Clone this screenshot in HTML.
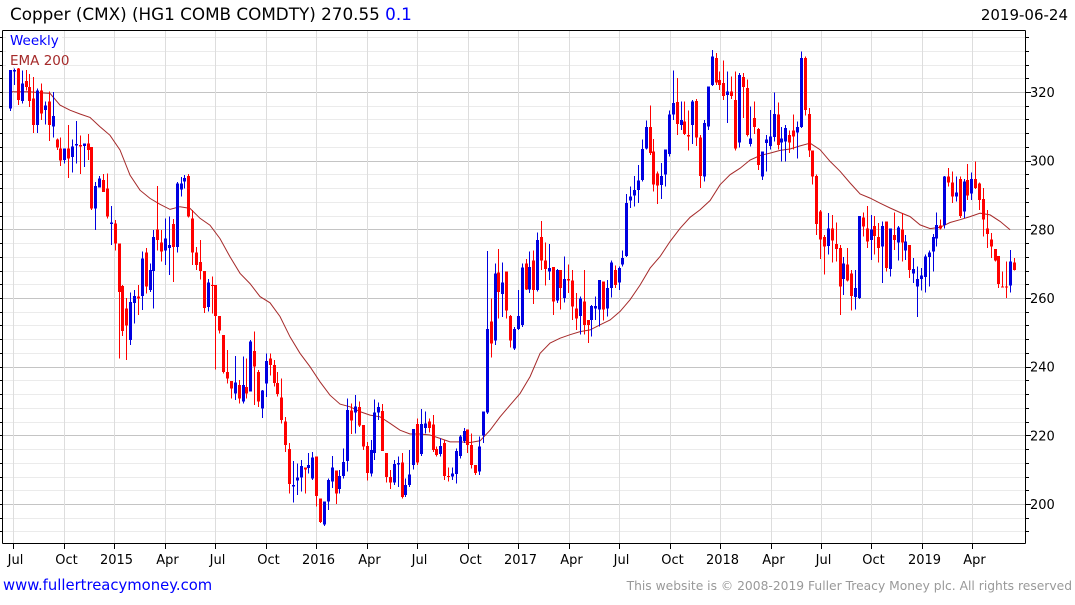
<!DOCTYPE html>
<html><head><meta charset="utf-8"><style>
html,body{margin:0;padding:0;background:#fff;}
body{width:1075px;height:600px;overflow:hidden;font-family:"Liberation Sans","DejaVu Sans",sans-serif;}
svg text{font-family:"DejaVu Sans","Liberation Sans",sans-serif;}
</style></head><body>
<svg id="chart" width="1075" height="600" xmlns="http://www.w3.org/2000/svg" shape-rendering="crispEdges">
<text x="10" y="20" font-size="16.8" fill="#000">Copper (CMX) (HG1 COMB COMDTY) 270.55 <tspan fill="#0000ff">0.1</tspan></text>
<text x="1068" y="20" font-size="15" fill="#000" text-anchor="end">2019-06-24</text>
<g id="grid"></g>
<g id="ema"></g>
<g id="candles"></g>
<g id="axes"></g>
<rect x="6" y="31" width="56" height="36" fill="#fff"/>
<text x="10" y="45" font-size="13.5" fill="#0000ff">Weekly</text>
<text x="10" y="65" font-size="13.5" fill="#a52a2a">EMA 200</text>
<text x="3" y="590" font-size="14.8" fill="#0000ff">www.fullertreacymoney.com</text>
<text x="1072" y="590" font-size="12.3" fill="#999" text-anchor="end">This website is © 2008-2019 Fuller Treacy Money plc. All rights reserved</text>
</svg>
<script>
const opens=[315.2,325.9,326.9,317.4,323.2,321.5,318.1,310.4,320.5,314.7,317.2,310,306.2,303.6,300.2,303.6,301.1,304.5,304.6,304.3,305,304,286.1,292.2,294.3,291.9,281.6,281.7,275.9,263.5,257,247.7,258.5,260.4,260.6,273.2,262.3,267.9,280,276.1,273.9,274.6,281.5,274.9,291.6,294,295.5,283.2,273.2,270.5,267.9,257.4,263.8,263.8,254.8,249.2,238.5,235.8,232.2,234.6,229.8,234.1,232.7,244.5,238.5,227.8,235.1,242.4,240.5,235.3,231,224,216,205.2,206.8,207.7,210.7,210.5,207.5,213.8,201.6,194,200.7,206.5,209.7,204.3,208.1,212.5,227.2,226.6,228.3,223,216.9,208.9,214.8,226.7,227.1,214.8,207.8,206.3,211.6,212.1,202.6,205.5,211.4,223.3,214.5,222.2,224,223.2,216,214.5,217.7,208.2,208,208.7,214,218.4,221.7,217.2,211.4,209.4,220,226.6,253.1,247.6,267.4,261.2,267.7,254.8,245.3,250.9,252.1,270.1,262.5,270.9,262.4,277.7,270.9,267.7,269,259.3,268.2,260,265.5,265.1,257,254.8,259,253.6,253.6,257,256.6,264.8,256.9,262.9,268.2,264.5,269.7,272.3,288.4,289.8,291.5,294.4,303.6,309.8,302.7,296.2,292.9,295.9,302,313.4,317.1,310.4,311.4,307.5,310.4,317.4,306.8,295.4,310,322.1,329.9,323.5,322.6,319.2,320.1,317.7,305.3,324.3,321.1,304.9,312.4,309.2,295.4,305.1,304.3,306.9,313.4,305.3,305.6,307.5,308.8,308.2,309.8,329.9,313.6,303,295.6,285.2,277.7,275.2,280.3,275.8,274.5,265.5,269.7,267.1,260.3,260,283.5,280.3,276.9,281,277.7,275,282.3,268.4,278.4,276.2,280,273.9,275.5,267.2,263.4,265.5,266.1,271.9,273.6,277.4,281.1,281.3,295.4,293.6,289.6,294.6,285.2,294.4,290.5,294.6,293.3,288.8,280.3,277.1,274.2,272.3,263.4,263.4,263.6,270.3];
const highs=[326.4,326.9,327,326.2,326.4,325.2,324.4,321,322.5,317.2,320.1,320,306.5,306.8,303.6,310.4,306.2,311.5,307.4,305,307.7,304,293.8,295.5,296.1,296.3,286.8,282.7,275.9,263.8,260,261.6,262.3,263.8,273.5,274.6,270.1,279.8,292.6,279.8,283.2,283.7,283,293.8,295.3,295.8,296.1,285.6,274.9,276.9,267.9,265.5,266.2,263.8,254.8,249.2,244.8,235.8,243.1,236.1,242.9,242.4,247.7,250.2,239,233.2,243.9,243.9,241.9,238.5,236.6,225.4,217.7,212.5,211.8,212.8,210.7,214.8,215.2,213.8,201.6,200.7,207.5,214,209.7,209.9,216.2,230.8,229.3,231.7,229.8,223,218.1,218.6,230.5,229.5,229.1,214.8,209.9,212.8,213.8,214.8,207.5,215.7,221.8,224.9,227.7,226.9,224.9,225.9,216.7,219.1,218.6,210.7,210.7,216.2,220.1,222.2,221.7,220.6,211.4,219.6,227,273.7,259.9,270.1,274.3,270.3,267.7,255.1,251.6,262.3,270.1,271.3,273.5,273.8,279.1,282.5,276.2,275.8,269,268.4,268.2,272.1,269.7,268.2,261.4,260.4,268.2,253.6,258,260.4,265.3,264.8,265.3,270.9,269.4,269.2,273.8,290.3,292.5,295.6,298.8,306.1,311.7,316,306.3,296.8,299.3,303.2,314.6,326.3,324.1,317.2,317.2,314.6,317.7,317.9,307.5,311.9,321.6,332.3,331.3,326,329.2,326,324.5,326,325.5,325.5,323.7,315.8,317.2,309.5,302.7,307.5,314.8,319.9,317,309.8,310.4,308.8,313.4,311.4,331.8,330.4,315.3,303,295.9,285.7,278.4,284.7,284.2,282,275.5,271.9,274.5,268.2,268.2,283.9,284.9,286.8,284.2,283.9,281.8,282.3,282.3,280.3,284.9,281,284.7,278.4,275.5,271.6,269.2,268.7,272.6,273.8,278.7,284.9,282.8,295.6,297.8,296.8,295.4,295.4,294.6,299.1,296.6,299.8,293.6,292,285.7,278.9,274.2,272.3,267.7,270.6,274,271.6];
const lows=[314.5,322,316.2,316.7,320.5,315.7,308.1,308.1,311.8,310.6,305.8,306.8,303.1,298.4,299.2,295,296.5,299.2,296.1,298.2,300.2,285.6,279.8,292.2,290.9,283.2,275.4,273.8,242.4,248.9,242,246.3,252.6,255,256.5,261.3,261.8,257,273.9,270.7,269.6,266.7,264.7,273.3,289.5,291.9,283.5,269.6,268.1,265.4,255.7,256,255.5,239.2,249.7,238,235.1,230.8,230.3,229.3,229.3,230.8,232.7,228.8,228.3,225,231.2,237.5,234.2,231.3,223.5,215.2,203.1,200.4,202.6,203.6,203.1,208.9,207,199.2,194.4,193.6,198.2,204.6,200,203.1,207.5,209.4,220.4,220.6,222.5,215.7,206.8,208,212.8,224.5,215.4,206.3,204.3,205.5,205,201.6,202.1,205,210.1,211.4,214,220.6,220.8,215.2,213.8,213.8,207,206.5,207,206,213.3,217.7,214.8,210.4,208.4,208.4,217.7,226.2,242.7,246.3,254.1,254.4,254.1,245.6,244.8,250.7,251.6,262.3,261.4,258.3,261.9,268.2,263.6,265.3,255.1,258.5,256.6,258.7,261.4,253.6,250.7,249.3,249.3,246.9,248.8,253.6,251.7,253.4,254.6,260.2,262.9,262.4,269.2,271.9,286.2,286.7,287.6,293.9,303.2,301.7,291,287.4,288.8,292.5,301.2,311.9,307.5,309,307.5,303,304.9,304.3,292,294,309,321.8,322.1,320.6,317.7,310.9,317.9,302.9,303.9,312.4,307,304.1,307.8,297.3,294.4,296.9,303.2,305.6,303.2,299.8,299.8,302.2,303.2,300.7,309.5,313.1,301,293,278.4,271.3,266.8,272.6,270.3,270.6,255.1,260.9,264.8,256.4,256.7,259.7,277.9,274.5,271.1,272.6,270.3,264.3,267.7,266.3,274,270.9,270.6,271.1,265.8,264.3,254.4,262.2,261.6,263.4,267.7,275,280,280.3,292.5,287.6,288.1,283.3,283.3,288.6,288.6,291.7,285.7,277.9,274.5,271.6,270.6,262.9,263.2,260,261.6,268];
const closes=[326.4,326.4,317.6,322.5,321.5,317.4,310.4,320.5,313.8,316,310.4,313,303.9,300,303.6,300.6,304.2,304.8,304.1,305,303.1,286.1,292.6,294.8,290.9,283.7,282,275.9,261.8,250.4,252,258.9,260.6,259.9,271.5,263.3,268.1,277.8,276.9,273.6,277.4,275.4,274.9,293.4,293.4,295,283.7,273.2,269.6,267.9,257.1,264.5,263.5,254.8,250.6,238.5,236.6,233.7,235.4,230.8,234.6,232.2,247.4,240,229.8,233,241.6,240.5,235.3,232,224.5,217.2,205.8,205.5,207.7,211.1,210.1,211.4,213.6,202.3,194.8,200.7,207,210.6,203.1,208.1,212.3,227.4,224.3,228.4,222.8,216.7,209.1,215.7,226.7,228.3,215.5,207.8,206.3,211.6,211.9,202.1,205.5,208.6,221.8,212.1,223.3,223.5,222.2,215.7,214.3,216.9,208.2,207.8,208.9,215.5,219.6,221.3,217.2,211.4,209.1,216.7,226.9,251,246.8,267.2,261.8,264.5,256.3,247.6,250.9,254.8,268.9,262.5,269.1,262.4,276.9,270.9,268.4,268.7,259,268.2,262.9,265.5,265.1,257.5,254.1,259.9,252.2,252.2,257.7,257.7,265.3,256.6,262.9,270.3,263.8,268.7,271.6,287.6,289.6,291.5,294.2,303.4,309.8,302.2,293,292.7,295.6,303.2,313.4,316.8,310.7,311.9,307.8,307,317.2,306.8,295.6,310.9,321.6,330.3,322.8,322.1,318.9,320.1,318.9,303.6,325,321.4,307.5,306.5,309.8,298.8,302.7,306.1,307.1,313.6,304.6,306.4,309.5,305.3,307,309.8,329.9,314.8,303,295.4,281.6,277.1,275,280.3,276.8,274.2,263.4,270.1,265.1,260.6,262.9,283.9,280.8,276.5,280,278.1,274.5,281,268.7,280.3,276.9,280.6,276.2,276.5,268.2,268.4,265.5,266.5,272.1,273.3,277.7,281.3,280.3,295.4,293.6,289.6,290.7,283.9,293.9,289.8,294.6,292,288.6,282.8,278.7,275,270.9,264.1,263.2,263.2,270.6,268.2];
const emaValues=[320.1,320.1,320.1,319.8,319.6,316.2,314.7,313.6,312.6,309.9,307.4,303.1,295.8,291.4,289,287.3,285.8,286.6,286.1,283.2,281.2,277.3,272,267.2,264.2,260.4,258.6,254.6,248.7,243.9,240,235.6,231.7,229.1,228.3,226.9,225.9,225.4,223.5,221.5,220.4,220.4,220.1,219.1,218.1,218.1,217.9,218.4,221.5,225.4,228.8,232.2,237.1,243.9,246.9,248.3,249.3,250.2,250.7,252.2,253.6,256.1,259.5,263.8,268.7,272.1,276.5,280.3,283.5,285.7,288.4,293,295.9,297.8,300.2,301.5,302.2,303,303.4,304.3,305.1,303.2,299.8,296.9,293.5,290.3,289.1,287.6,286.2,284.9,283.7,281.3,280.2,280.6,282,282.8,283.7,284.7,284.2,282.3,279.9];
const emaStepWeeks=2.58;
const yTicks=[200,220,240,260,280,300,320];
const xTickLabels=["Jul","Oct","2015","Apr","Jul","Oct","2016","Apr","Jul","Oct","2017","Apr","Jul","Oct","2018","Apr","Jul","Oct","2019","Apr"];
const quarterWeeks=13.02;

const NS="http://www.w3.org/2000/svg";
const L=2,R=1025,T=30,B=543;
const xw=w=>10+w*3.8764;
const yp=p=>504-(p-200)*3.4333;
function mk(tag,attrs,parent){const e=document.createElementNS(NS,tag);for(const k in attrs)e.setAttribute(k,attrs[k]);parent.appendChild(e);return e;}
const grid=document.getElementById('grid'),axes=document.getElementById('axes'),cg=document.getElementById('candles'),eg=document.getElementById('ema');
for(let p=192;p<=336;p+=4){const y=Math.round(yp(p))+0.5;const major=(p%20===0);
 const ln=mk('line',{x1:L,x2:R,y1:y,y2:y,stroke:major?'#c4c4c4':'#ebebeb','stroke-width':1},grid);
 
 
 const tk=mk('line',{x1:R,x2:R+(major?6:4),y1:y,y2:y,stroke:'#000'},axes);
 
 
 const lt=mk('line',{x1:0,x2:L,y1:y,y2:y,stroke:'#000'},axes);
 
 
}
yTicks.forEach(v=>{const t=mk('text',{x:1030,y:yp(v)+5,'font-size':13,fill:'#000'},axes);t.textContent=v;
 
 });
xTickLabels.forEach((s,q)=>{const x=Math.round(xw(0.9+q*quarterWeeks))+0.5;
 const g=mk('line',{x1:x,x2:x,y1:T,y2:B,stroke:'#dddddd'},grid);
 
 
 const tk=mk('line',{x1:x,x2:x,y1:B,y2:B+6,stroke:'#000'},axes);
 
 
 const t=mk('text',{x:x+2,y:564,'font-size':13,fill:'#000','text-anchor':'middle'},axes);t.textContent=s;
 
 
});
[[L,T,R,T],[R,T,R,B],[L,B,R,B],[L,T,L,B]].forEach(a=>{const ln=mk('line',{x1:a[0]+0.5,y1:a[1]+0.5,x2:a[2]+0.5,y2:a[3]+0.5,stroke:'#000'},axes);
 
 });
closes.forEach((c,i)=>{const o=opens[i],h=highs[i],l=lows[i];const up=c>=o;const col=up?'#0000e0':'#ff0000';
 const x=Math.round(xw(i));
 const w=mk('rect',{x:x,y:yp(h),width:1,height:Math.max(1,yp(l)-yp(h)),fill:col},cg);
 
 
 const top=yp(Math.max(o,c)),bot=yp(Math.min(o,c));
 const b=mk('rect',{x:x-1,y:top,width:3,height:Math.max(1.2,bot-top),fill:col},cg);
 
 
});
const pts=emaValues.map((v,k)=>xw(k*emaStepWeeks).toFixed(1)+','+yp(v).toFixed(1)).join(' ');
const pl=mk('polyline',{points:pts,fill:'none',stroke:'#a52a2a','stroke-width':1,'shape-rendering':'auto'},eg);


</script>
</body></html>
